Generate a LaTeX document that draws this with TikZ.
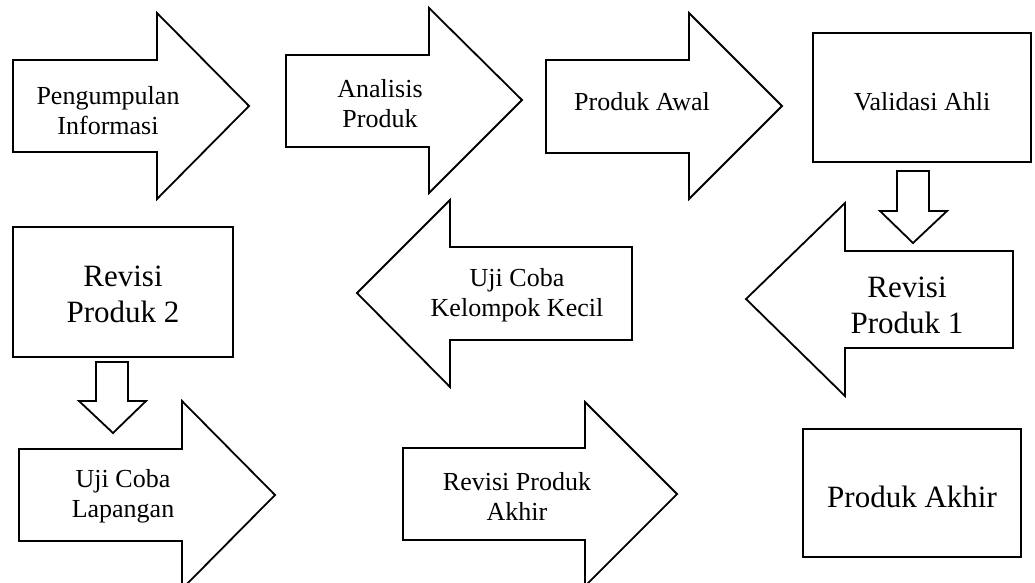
\documentclass[tikz,border=0pt]{standalone}
\usepackage{fontspec}
\setmainfont{Liberation Serif}

\begin{document}
\begin{tikzpicture}[x=1pt,y=-1pt,line width=1.8pt,line join=miter,
	txt/.style={align=center,font=\fontsize{26}{30}\selectfont},
	bigtxt/.style={align=center,font=\fontsize{31}{36}\selectfont}]
	\clip (0,0) rectangle (1035,582);
	% first row
	\draw (13,60) -- (157,60) -- (157,13) -- (249,106) -- (157,199) -- (157,152) -- (13,152) -- cycle;
	\draw (286,55) -- (429,55) -- (429,8) -- (522,100) -- (429,193) -- (429,147) -- (286,147) -- cycle;
	\draw (546,60) -- (689,60) -- (689,13) -- (782,106) -- (689,199) -- (689,153) -- (546,153) -- cycle;
	\draw (813,33) rectangle (1031,162);
	\node [txt] (info) at (108,111) {Pengumpulan\\Informasi};
	\node [txt] (analisis) at (380,104) {Analisis\\Produk};
	\node [txt] (awal) at (642,102) {Produk Awal};
	\node [txt] (validasi) at (922,102) {Validasi Ahli};
	% second row
	\draw (897,171) -- (929,171) -- (929,211) -- (947,211) -- (913,243) -- (880,211) -- (897,211) -- cycle;
	\draw (13,227) rectangle (233,357);
	\draw (632,247) -- (450,247) -- (450,200) -- (357,293) -- (450,387) -- (450,340) -- (632,340) -- cycle;
	\draw (1013,251) -- (845,251) -- (845,203) -- (746,299) -- (845,396) -- (845,348) -- (1013,348) -- cycle;
	\node [bigtxt] (revisidua) at (123,294) {Revisi\\Produk 2};
	\node [txt] (kelompok) at (517,295) {Uji Coba\\Kelompok Kecil};
	\node [bigtxt] (revisisatu) at (907,305) {Revisi\\Produk 1};
	% third row
	\draw (96,362) -- (128,362) -- (128,401) -- (146,401) -- (113,433) -- (79,401) -- (96,401) -- cycle;
	\draw (19,449) -- (182,449) -- (182,401) -- (275,495) -- (182,589) -- (182,541) -- (19,541) -- cycle;
	\draw (403,448) -- (585,448) -- (585,402) -- (677,494) -- (585,586) -- (585,540) -- (403,540) -- cycle;
	\draw (803,429) rectangle (1021,557);
	\node [txt] (lapangan) at (123,496) {Uji Coba\\Lapangan};
	\node [txt] (revakhir) at (517,496) {Revisi Produk\\Akhir};
	\node [bigtxt] (akhir) at (912,497) {Produk Akhir};
\end{tikzpicture}
\end{document}
